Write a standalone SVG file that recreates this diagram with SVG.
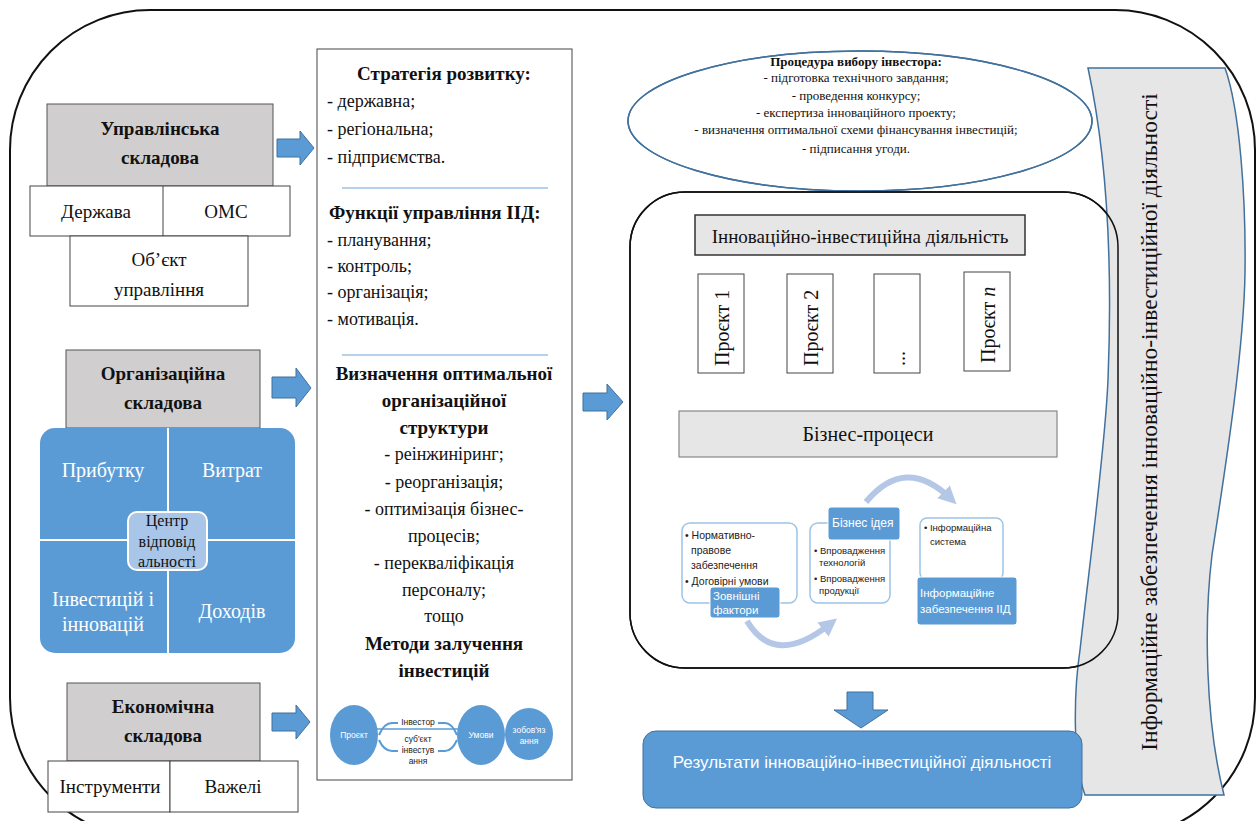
<svg xmlns="http://www.w3.org/2000/svg" width="1257" height="821" viewBox="0 0 1257 821">
<defs>
<style>
.t{font-family:"Liberation Serif","Times New Roman",serif;fill:#111}
.b{font-weight:bold}
.s{font-family:"Liberation Sans",Arial,sans-serif}
.gray{fill:#d0cece;stroke:#555;stroke-width:1}
.wbox{fill:#fff;stroke:#444;stroke-width:1}
.arr{fill:#5b9bd5;stroke:#41719c;stroke-width:1}
.blue{fill:#5b9bd5}
.sep{stroke:#9dc3e6;stroke-width:1.5}
.sa{fill:#fff;stroke:#9dc3e6;stroke-width:1.5}
.lab{fill:#5b9bd5;stroke:#fff;stroke-width:1}
.arc{fill:none;stroke:#b4c7e7;stroke-width:6;marker-end:url(#ah)}
</style>
<marker id="ah" viewBox="0 0 10 10" refX="5" refY="5" markerWidth="3" markerHeight="3" orient="auto">
<path d="M0,0 L10,5 L0,10 z" fill="#b4c7e7"/>
</marker>
</defs>
<rect width="1257" height="821" fill="#fff"/>
<!-- outer frame -->
<rect id="frame" x="10" y="10" width="1245" height="828" rx="140" ry="140" fill="none" stroke="#111" stroke-width="2"/>

<!-- Управлінська складова -->
<g id="upr">
<rect class="gray" x="47" y="104" width="226" height="82"/>
<text class="t b" x="160" y="135" font-size="19" text-anchor="middle">Управлінська</text>
<text class="t b" x="160" y="164" font-size="19" text-anchor="middle">складова</text>
<rect class="wbox" x="30" y="186" width="260" height="50"/>
<line x1="163" y1="186" x2="163" y2="236" stroke="#444"/>
<text class="t" x="96" y="218" font-size="19" text-anchor="middle">Держава</text>
<text class="t" x="226" y="218" font-size="19" text-anchor="middle">ОМС</text>
<rect class="wbox" x="70" y="236" width="178" height="70"/>
<text class="t" x="159" y="266" font-size="19" text-anchor="middle">Об’єкт</text>
<text class="t" x="159" y="296" font-size="19" text-anchor="middle">управління</text>
</g>

<!-- Організаційна складова -->
<g id="org">
<rect class="gray" x="66" y="350" width="194" height="78"/>
<text class="t b" x="163" y="380" font-size="19" text-anchor="middle">Організаційна</text>
<text class="t b" x="163" y="409" font-size="19" text-anchor="middle">складова</text>
<rect class="blue" x="40" y="428" width="255" height="225" rx="15"/>
<line x1="168" y1="428" x2="168" y2="653" stroke="#fff" stroke-width="2"/>
<line x1="40" y1="540" x2="295" y2="540" stroke="#fff" stroke-width="2"/>
<text class="t" x="103" y="477" font-size="20" text-anchor="middle" style="fill:#fff">Прибутку</text>
<text class="t" x="232" y="477" font-size="20" text-anchor="middle" style="fill:#fff">Витрат</text>
<text class="t" x="103" y="606" font-size="20" text-anchor="middle" style="fill:#fff">Інвестицій і</text>
<text class="t" x="103" y="631" font-size="20" text-anchor="middle" style="fill:#fff">інновацій</text>
<text class="t" x="232" y="618" font-size="20" text-anchor="middle" style="fill:#fff">Доходів</text>
<rect x="128" y="512" width="79" height="58" rx="9" fill="#a9c5e8" stroke="#fff" stroke-width="2"/>
<text class="t" x="167" y="526" font-size="16" text-anchor="middle">Центр</text>
<text class="t" x="167" y="547" font-size="16" text-anchor="middle">відповід</text>
<text class="t" x="167" y="567" font-size="16" text-anchor="middle">альності</text>
</g>

<!-- Економічна складова -->
<g id="econ">
<rect class="gray" x="67" y="683" width="193" height="78"/>
<text class="t b" x="163" y="713" font-size="19" text-anchor="middle">Економічна</text>
<text class="t b" x="163" y="742" font-size="19" text-anchor="middle">складова</text>
<rect class="wbox" x="48" y="761" width="122" height="51"/>
<rect class="wbox" x="170" y="761" width="128" height="51"/>
<text class="t" x="110" y="793" font-size="19" text-anchor="middle">Інструменти</text>
<text class="t" x="233" y="793" font-size="19" text-anchor="middle">Важелі</text>
</g>

<!-- middle column -->
<g id="middle">
<rect class="wbox" x="317" y="49" width="255" height="731"/>
<text class="t b" x="444" y="80" font-size="19" text-anchor="middle">Стратегія розвитку:</text>
<text class="t" x="327" y="107" font-size="18">- державна;</text>
<text class="t" x="327" y="135" font-size="18">- регіональна;</text>
<text class="t" x="327" y="163" font-size="18">- підприємства.</text>
<line x1="342" y1="188" x2="548" y2="188" class="sep"/>
<text class="t b" x="329" y="219" font-size="19">Функції управління ІІД:</text>
<text class="t" x="327" y="246" font-size="18">- планування;</text>
<text class="t" x="327" y="272" font-size="18">- контроль;</text>
<text class="t" x="327" y="298" font-size="18">- організація;</text>
<text class="t" x="327" y="325" font-size="18">- мотивація.</text>
<line x1="342" y1="355" x2="548" y2="355" class="sep"/>
<text class="t b" x="444" y="380" font-size="19" text-anchor="middle">Визначення оптимальної</text>
<text class="t b" x="444" y="407" font-size="19" text-anchor="middle">організаційної</text>
<text class="t b" x="444" y="434" font-size="19" text-anchor="middle">структури</text>
<text class="t" x="444" y="460" font-size="18" text-anchor="middle">- реінжиніринг;</text>
<text class="t" x="444" y="488" font-size="18" text-anchor="middle">- реорганізація;</text>
<text class="t" x="444" y="515" font-size="18" text-anchor="middle">- оптимізація бізнес-</text>
<text class="t" x="444" y="542" font-size="18" text-anchor="middle">процесів;</text>
<text class="t" x="444" y="569" font-size="18" text-anchor="middle">- перекваліфікація</text>
<text class="t" x="444" y="596" font-size="18" text-anchor="middle">персоналу;</text>
<text class="t" x="444" y="622" font-size="18" text-anchor="middle">тощо</text>
<text class="t b" x="444" y="650" font-size="19" text-anchor="middle">Методи залучення</text>
<text class="t b" x="444" y="677" font-size="19" text-anchor="middle">інвестицій</text>
</g>

<!-- methods mini diagram -->
<g id="methods">
<line x1="375" y1="729" x2="460" y2="729" stroke="#5b9bd5" stroke-width="1.5"/>
<path d="M379,735 Q384,723 392,723 L398,723 M438,723 L445,723 Q452,723 457,735" fill="none" stroke="#5b9bd5" stroke-width="2"/>
<path d="M379,740 Q384,751 392,751 L398,751 M438,751 L445,751 Q452,751 457,740" fill="none" stroke="#5b9bd5" stroke-width="2"/>
<ellipse class="blue" cx="354" cy="735" rx="24" ry="30"/>
<ellipse class="blue" cx="481" cy="735" rx="24" ry="30"/>
<ellipse class="blue" cx="529" cy="734" rx="24" ry="26"/>
<text class="s" x="354" y="738" font-size="8.5" text-anchor="middle" fill="#fff">Проєкт</text>
<text class="s" x="481" y="738" font-size="8.5" text-anchor="middle" fill="#fff">Умови</text>
<text class="s" x="529" y="733" font-size="8.5" text-anchor="middle" fill="#fff">зобов'яз</text>
<text class="s" x="529" y="744" font-size="8.5" text-anchor="middle" fill="#fff">ання</text>
<text class="s" x="418" y="725" font-size="8.5" text-anchor="middle" fill="#222">Інвестор</text>
<text class="s" x="418" y="742" font-size="8.5" text-anchor="middle" fill="#222">суб'єкт</text>
<text class="s" x="418" y="753" font-size="8.5" text-anchor="middle" fill="#222">інвестув</text>
<text class="s" x="418" y="764" font-size="8.5" text-anchor="middle" fill="#222">ання</text>
</g>

<!-- ellipse -->
<g id="procedure">
<ellipse cx="860" cy="121" rx="232" ry="70" fill="#fff" stroke="#41719c" stroke-width="1.5"/>
<text class="t b" x="856" y="66" font-size="13" text-anchor="middle">Процедура вибору інвестора:</text>
<text class="t" x="856" y="82" font-size="13" text-anchor="middle">- підготовка технічного завдання;</text>
<text class="t" x="856" y="100" font-size="13" text-anchor="middle">- проведення конкурсу;</text>
<text class="t" x="856" y="117" font-size="13" text-anchor="middle">- експертиза інноваційного проекту;</text>
<text class="t" x="856" y="134" font-size="13" text-anchor="middle">- визначення оптимальної схеми фінансування інвестицій;</text>
<text class="t" x="856" y="153" font-size="13" text-anchor="middle">- підписання угоди.</text>
</g>

<!-- inner rounded box -->
<g id="activity">
<rect x="630" y="192" width="488" height="476" rx="55" fill="#fff" stroke="#111" stroke-width="1.5"/>
</g>

<!-- banner -->
<g id="banner">
<path d="M1088,68 L1225,68 C1240,110 1246,200 1245,272 C1244,350 1225,470 1212,555 C1204,620 1205,720 1224,795 L1085,795 C1072,760 1074,690 1080,650 C1090,560 1105,450 1108,380 C1112,280 1110,170 1088,68 Z" fill="#e7e6e6" stroke="#41719c" stroke-width="1.5"/>
<text class="t" transform="translate(1157,422) rotate(-90)" font-size="23.5" text-anchor="middle">Інформаційне забезпечення інноваційно-інвестиційної діяльності</text>
</g>
<ellipse cx="860" cy="121" rx="232" ry="70" fill="none" stroke="#41719c" stroke-width="1.5"/>
<rect x="630" y="192" width="488" height="476" rx="55" fill="none" stroke="#111" stroke-width="1.5"/>

<g id="iid">
<rect x="695" y="215" width="330" height="40" fill="#e7e6e6" stroke="#333" stroke-width="1.5"/>
<text class="t" x="860" y="243" font-size="19" text-anchor="middle">Інноваційно-інвестиційна діяльність</text>
</g>
<g id="p1"><rect class="wbox" x="698" y="274" width="46" height="99"/>
<text class="t" transform="translate(729,366) rotate(-90)" font-size="20">Проєкт 1</text></g>
<g id="p2"><rect class="wbox" x="787" y="274" width="46" height="99"/>
<text class="t" transform="translate(818,366) rotate(-90)" font-size="20">Проєкт 2</text></g>
<g id="p3"><rect class="wbox" x="874" y="274" width="46" height="99"/>
<text class="t" transform="translate(905,366) rotate(-90)" font-size="20">...</text></g>
<g id="pn"><rect class="wbox" x="964" y="272" width="46" height="99"/>
<text class="t" transform="translate(995,363) rotate(-90)" font-size="20">Проєкт <tspan font-style="italic">n</tspan></text></g>
<g id="bp">
<rect x="679" y="411" width="378" height="46" fill="#e7e6e6" stroke="#888" stroke-width="1.2"/>
<text class="t" x="868" y="441" font-size="20" text-anchor="middle">Бізнес-процеси</text>
</g>

<!-- smartart -->
<g id="ext">
<rect class="sa" x="682" y="523" width="115" height="80" rx="8"/>
<text class="s" font-size="10.5" fill="#222"><tspan x="685" y="539">• Нормативно-</tspan><tspan x="691" y="554">правове</tspan><tspan x="691" y="569">забезпечення</tspan><tspan x="685" y="585">• Договірні умови</tspan></text>
<rect class="lab" x="710" y="587" width="70" height="31" rx="3"/>
<text class="s" font-size="11.5" fill="#fff"><tspan x="713" y="600">Зовнішні</tspan><tspan x="713" y="614">фактори</tspan></text>
</g>
<g id="idea">
<rect class="sa" x="810" y="523" width="80" height="80" rx="8"/>
<text class="s" font-size="9.5" fill="#222"><tspan x="814" y="554">• Впровадження</tspan><tspan x="819" y="566">технологій</tspan><tspan x="814" y="582">• Впровадження</tspan><tspan x="819" y="594">продукції</tspan></text>
<rect class="lab" x="828" y="507" width="72" height="33" rx="3"/>
<text class="s" x="832" y="527" font-size="12" fill="#fff">Бізнес ідея</text>
</g>
<g id="info">
<rect class="sa" x="920" y="518" width="83" height="62" rx="7"/>
<text class="s" font-size="9.5" fill="#222"><tspan x="924" y="531">• Інформаційна</tspan><tspan x="930" y="545">система</tspan></text>
<rect class="lab" x="917" y="577" width="100" height="48" rx="3"/>
<text class="s" font-size="11.5" fill="#fff"><tspan x="920" y="597">Інформаційне</tspan><tspan x="920" y="613">забезпечення ІІД</tspan></text>
</g>

<g id="results">
<rect x="643" y="731" width="439" height="77" rx="13" fill="#5b9bd5" stroke="#41719c" stroke-width="1"/>
<text class="s" x="862" y="768" font-size="17" text-anchor="middle" fill="#fff">Результати інноваційно-інвестиційної діяльності</text>
</g>

<!-- connectors -->
<g id="connectors">
<polygon class="arr" points="277,139 300,139 300,131 314,148 300,165 300,157 277,157"/>
<polygon class="arr" points="272,377 296,377 296,368 311,388 296,407 296,398 272,398"/>
<polygon class="arr" points="272,713 296,713 296,705 310,722 296,739 296,731 272,731"/>
<polygon class="arr" points="583,393 607,393 607,384 623,402 607,420 607,411 583,411"/>
<polygon class="arr" points="847,692 873,692 873,710 888,710 861,728 834,710 847,710"/>
<path class="arc" d="M747,621 Q775,668 830,624"/>
<path class="arc" d="M866,502 Q905,455 950,498"/>
</g>
</svg>
